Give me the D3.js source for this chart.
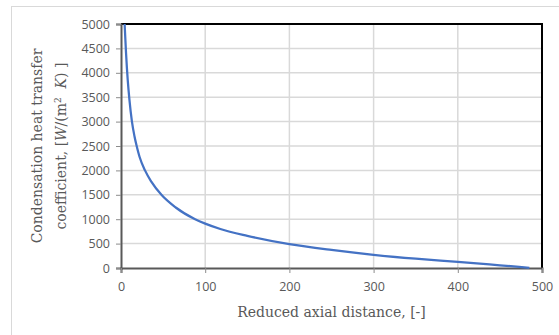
<!DOCTYPE html>
<html>
<head>
<meta charset="utf-8">
<script src="https://cdn.jsdelivr.net/npm/d3@7"></script>
<style>
  body { margin: 0; background: #fff; }
  svg { display: block; }
</style>
</head>
<body>
<svg id="chart" width="559" height="335"></svg>
<script>
// values
const distance = [4.3, 5, 6, 7, 8, 10, 13, 16, 18.6, 22, 28.5, 36, 48, 65, 88, 100, 118, 150, 200, 250, 300, 350, 400, 450, 485];
const htc = [5000, 4750, 4400, 4100, 3850, 3450, 3000, 2700, 2500, 2280, 2000, 1770, 1500, 1240, 1000, 910, 800, 660, 490, 370, 270, 190, 125, 55, 5];
const xTicks = [0, 100, 200, 300, 400, 500];
const yTicks = [0, 500, 1000, 1500, 2000, 2500, 3000, 3500, 4000, 4500, 5000];

const svg = d3.select("#chart");
const plotLeft = 121, plotRight = 542, plotTop = 24, plotBottom = 268;
const titleFont = "'DejaVu Serif', serif";

const x = d3.scaleLinear().domain([0, 500]).range([plotLeft, plotRight]);
const y = d3.scaleLinear().domain([0, 5000]).range([plotBottom, plotTop]);

// outer frame of the chart area
svg.append("rect")
    .attr("x", 11.5).attr("y", 6.5)
    .attr("width", 600).attr("height", 400)
    .attr("fill", "none")
    .attr("stroke", "#d9d9d9")
    .attr("stroke-width", 1);

// gridlines
svg.append("g")
    .selectAll("line")
    .data(yTicks.slice(1))
    .enter().append("line")
    .attr("x1", plotLeft).attr("x2", plotRight)
    .attr("y1", d => y(d)).attr("y2", d => y(d))
    .attr("stroke", "#d9d9d9").attr("stroke-width", 1.5);

svg.append("g")
    .selectAll("line")
    .data(xTicks.slice(1))
    .enter().append("line")
    .attr("x1", d => x(d)).attr("x2", d => x(d))
    .attr("y1", plotTop).attr("y2", plotBottom)
    .attr("stroke", "#d9d9d9").attr("stroke-width", 1.5);

// top and right border
svg.append("path")
    .attr("d", `M${plotLeft},${plotTop}H${plotRight}V${plotBottom}`)
    .attr("fill", "none")
    .attr("stroke", "#000")
    .attr("stroke-width", 2);

// axes
const yAxis = svg.append("g")
    .attr("transform", `translate(${plotLeft},0)`)
    .call(d3.axisLeft(y).tickValues(yTicks).tickFormat(d3.format("d")).tickSize(5).tickPadding(6));
const xAxis = svg.append("g")
    .attr("transform", `translate(0,${plotBottom})`)
    .call(d3.axisBottom(x).tickValues(xTicks).tickFormat(d3.format("d")).tickSize(5).tickPadding(9));

[yAxis, xAxis].forEach(a => {
    a.select(".domain").attr("stroke", "#595959").attr("stroke-width", 2);
    a.selectAll(".tick line").attr("stroke", "#8c8c8c").attr("stroke-width", 1);
    a.selectAll(".tick text")
        .attr("fill", "#595959")
        .style("font-family", "'Open Sans', sans-serif")
        .style("font-size", "12.5px");
});

// curve
const line = d3.line()
    .x((d, i) => x(distance[i]))
    .y(d => y(d))
    .curve(d3.curveMonotoneX);

svg.append("path")
    .datum(htc)
    .attr("d", line)
    .attr("fill", "none")
    .attr("stroke", "#4472c4")
    .attr("stroke-width", 2.25);

// axis titles
svg.append("text")
    .attr("x", (plotLeft + plotRight) / 2)
    .attr("y", 317)
    .attr("text-anchor", "middle")
    .attr("fill", "#595959")
    .style("font-family", titleFont)
    .style("font-size", "14px")
    .text("Reduced axial distance, [-]");

const yTitle = svg.append("text")
    .attr("transform", "translate(0,146) rotate(-90)")
    .attr("text-anchor", "middle")
    .attr("fill", "#595959")
    .style("font-family", titleFont)
    .style("font-size", "14px");

yTitle.append("tspan").attr("x", 0).attr("y", 42).text("Condensation heat transfer");
const l2 = yTitle.append("tspan").attr("x", 0).attr("y", 66);
l2.append("tspan").text("coefficient, [");
l2.append("tspan").style("font-style", "italic").text("W");
l2.append("tspan").text("/(m");
l2.append("tspan").attr("dy", -5).style("font-size", "9px").text("2");
l2.append("tspan").attr("dy", 5).text("\u00a0\u00a0");
l2.append("tspan").style("font-style", "italic").text("K");
l2.append("tspan").text(") ]");
</script>
</body>
</html>
